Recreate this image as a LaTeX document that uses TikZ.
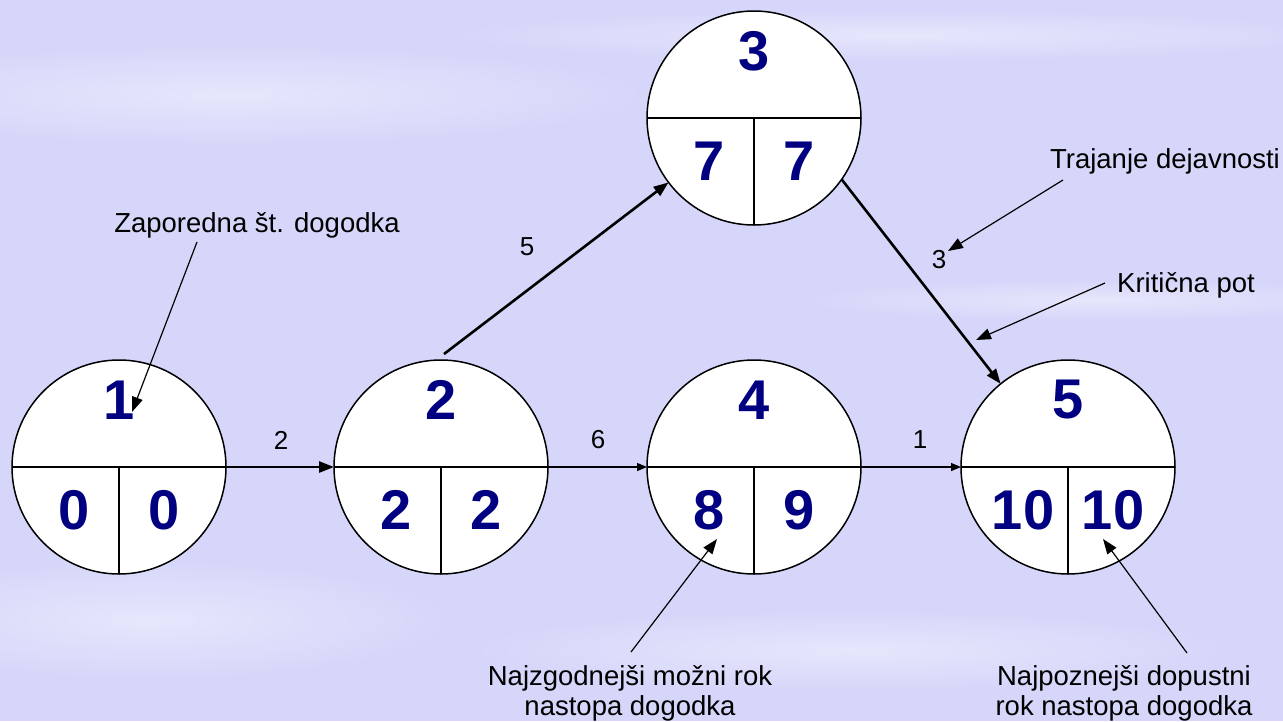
\documentclass[tikz,border=0pt]{standalone}
\usepackage{fontspec}
\setmainfont{Liberation Sans}
\usetikzlibrary{arrows.meta}
\definecolor{navy}{RGB}{0,0,128}
\definecolor{bgcol}{RGB}{214,214,250}
\definecolor{bglight}{RGB}{230,230,252}
\tikzset{>={Stealth[inset=0pt,length=15pt,width=11pt]}}
\tikzset{
    event/.style={circle, draw, line width=1.5pt, fill=white, minimum size=214pt, inner sep=0pt, outer sep=0pt},
    cell/.style={line width=1.4pt},
    num/.style={text=navy, inner sep=0pt, font=\bfseries\fontsize{56}{56}\selectfont},
    crit/.style={line width=2.6pt, ->},
    act/.style={line width=1.2pt, -{Stealth[inset=0pt,length=10pt,width=8pt]}},
    lbl/.style={inner sep=0pt, font=\fontsize{26}{26}\selectfont},
    note/.style={inner sep=0pt, align=center, font=\fontsize{27.5}{30}\selectfont},
    pointer/.style={line width=1.2pt, ->}
}

\begin{document}
\begin{tikzpicture}[x=1pt,y=-1pt]
    \useasboundingbox (0,0) rectangle (1283,721);
    % background with soft streaks
    \fill[bgcol] (0,0) rectangle (1283,721);
    \shade[inner color=bglight, outer color=bgcol] (230,95) ellipse (420 and 50);
    \shade[inner color=bglight, outer color=bgcol] (900,35) ellipse (450 and 25);
    \shade[inner color=bglight, outer color=bgcol] (150,620) ellipse (300 and 60);
    \shade[inner color=bglight, outer color=bgcol] (850,650) ellipse (380 and 40);
    \shade[inner color=bglight, outer color=bgcol] (1100,300) ellipse (300 and 20);

    % events
    \foreach \n/\x/\y/\a/\b in {1/119/467/0/0, 2/441/467/2/2, 3/754/118/7/7, 4/754/467/8/9, 5/1068/467/10/10} {
        \node[event] (e\n) at (\x,\y) {};
        \draw[cell] (e\n.west) -- (e\n.east);
        \draw[cell] (e\n.center) -- (e\n.south);
        \node[num] (t\n) at (\x,{\y-67}) {\n};
        \node[num] (l\n) at ({\x-45},{\y+43}) {\a};
        \node[num] (r\n) at ({\x+45},{\y+43}) {\b};
    }

    % activities
    \draw[crit] (e1.east) -- (e2.west);
    \draw[crit] ([shift={(3pt,6pt)}]e2.north) -- (e3.217);
    \draw[crit] (e3.325) -- (e5.129);
    \draw[act] (e2.east) -- (e4.west);
    \draw[act] (e4.east) -- (e5.west);
    \node[lbl] (d12) at (281,440) {2};
    \node[lbl] (d23) at (527,247) {5};
    \node[lbl] (d35) at (939,260) {3};
    \node[lbl] (d24) at (598,440) {6};
    \node[lbl] (d45) at (920,440) {1};

    % notes
    \node[note, anchor=base] (zap) at (257,232) {Zaporedna št. dogodka};
    \node[note, anchor=base] (traj) at (1165,168) {Trajanje dejavnosti};
    \node[note, anchor=base] (krit) at (1186,292) {Kritična pot};
    \node[note, anchor=base] (early) at (630,715) {Najzgodnejši možni rok\\nastopa dogodka};
    \node[note, anchor=base] (late) at (1124,715) {Najpoznejši dopustni\\rok nastopa dogodka};

    \coordinate (zapT) at (197,242);
    \coordinate (zapH) at (132,412);
    \coordinate (trajT) at (1063,180);
    \coordinate (trajH) at (948,251);
    \coordinate (kritT) at (1105,283);
    \coordinate (kritH) at (976,340);
    \coordinate (earlyT) at (631,652);
    \coordinate (earlyH) at (717,539);
    \coordinate (lateT) at (1187,653);
    \coordinate (lateH) at (1103,539);
    \draw[pointer] (zapT) -- (zapH);
    \draw[pointer] (trajT) -- (trajH);
    \draw[pointer] (kritT) -- (kritH);
    \draw[pointer] (earlyT) -- (earlyH);
    \draw[pointer] (lateT) -- (lateH);
\end{tikzpicture}
\end{document}
